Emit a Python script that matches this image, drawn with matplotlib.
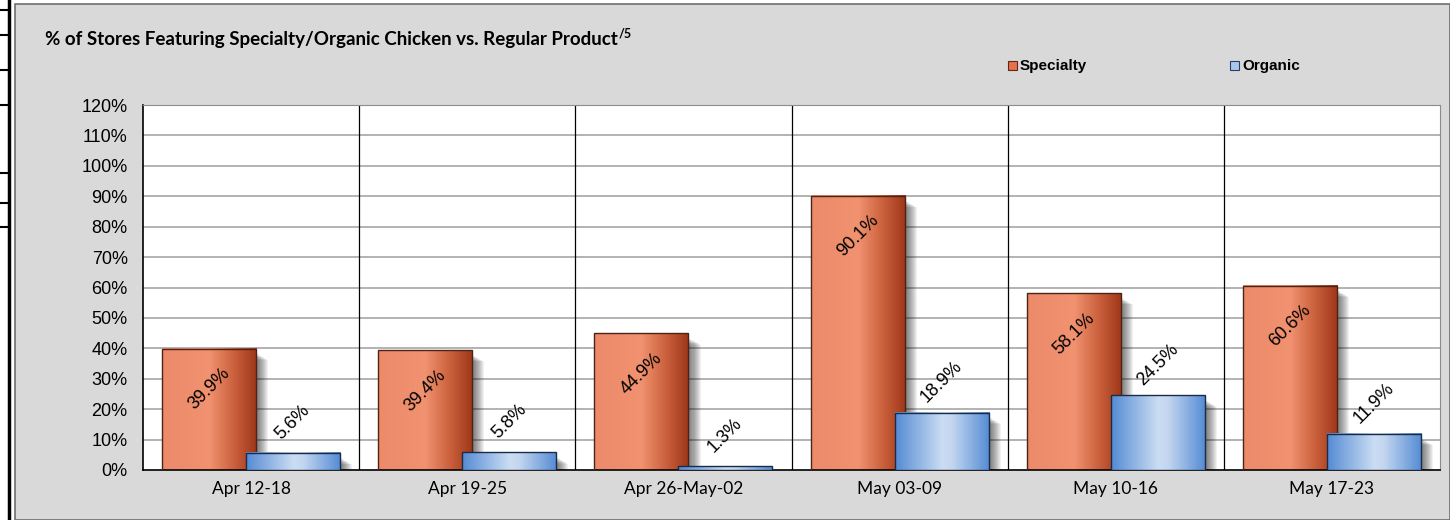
import numpy as np
import matplotlib
matplotlib.use("Agg")
import matplotlib.pyplot as plt
from matplotlib.patches import Rectangle
from matplotlib.lines import Line2D

weeks = ["Apr 12-18", "Apr 19-25", "Apr 26-May-02", "May 03-09", "May 10-16", "May 17-23"]
specialty = [39.9, 39.4, 44.9, 90.1, 58.1, 60.6]
organic = [5.6, 5.8, 1.3, 18.9, 24.5, 11.9]
yticks = list(range(0, 130, 10))

W, H = 1450, 520
fig = plt.figure(figsize=(W / 100, H / 100), dpi=100, facecolor="white")

# outer grey frame + leftover table lines on the left edge
fig.patches.append(Rectangle((15 / W, 0), 1 - 15 / W, 1 - 4 / H, transform=fig.transFigure,
                             facecolor="#d9d9d9", edgecolor="#6e6e6e", lw=1.2, zorder=-5))
fig.add_artist(Line2D([9 / W, 9 / W], [0, 1], transform=fig.transFigure, color="black", lw=2.5))
for yy in [10, 35, 70, 105, 173, 203, 227]:
    fig.add_artist(Line2D([0, 9 / W], [1 - yy / H, 1 - yy / H], transform=fig.transFigure,
                          color="black", lw=1.5))

ax = fig.add_axes([143 / W, 1 - 470 / H, (1440 - 143) / W, (470 - 105) / H], zorder=2)
ax.set_facecolor("white")
ax.set_xlim(-0.5, len(weeks) - 0.5)
ax.set_ylim(0, 120)
px = 1.0 / 216          # one pixel in x data units
py = 120.0 / 365        # one pixel in y data units

ax.set_yticks(yticks)
ax.set_yticklabels([f"{v}%" for v in yticks], fontsize=13, family="Liberation Sans")
ax.set_xticks(range(len(weeks)))
ax.set_xticklabels(weeks, fontsize=12.5, family="Lato")
ax.tick_params(axis="y", length=0, pad=11)
ax.tick_params(axis="x", length=0, pad=8)
for y in yticks[1:]:
    ax.axhline(y, color="#a6a6a6", lw=1.2, zorder=0.5)
for i in range(1, len(weeks)):
    ax.axvline(i - 0.5, color="black", lw=0.9, zorder=0.6)
for s in ["top", "right"]:
    ax.spines[s].set_color("#8c8c8c")
for s in ["left", "bottom"]:
    ax.spines[s].set_color("black")
    ax.spines[s].set_linewidth(1.2)

def ramp(stops, n=256):
    t = np.linspace(0, 1, n)
    pos = [p for p, _ in stops]
    cols = np.array([c for _, c in stops]) / 255.0
    return np.stack([np.interp(t, pos, cols[:, k]) for k in range(3)], axis=1)[None, :, :]

orange = ramp([(0, (236, 138, 106)), (0.5, (241, 146, 112)), (0.75, (204, 98, 62)), (1.0, (158, 54, 24))])
blue = ramp([(0, (84, 139, 212)), (0.5, (203, 221, 243)), (0.6, (196, 215, 240)), (1.0, (84, 139, 212))])

bw = 0.435
off = 0.194
xs = np.arange(len(weeks))
b1 = ax.bar(xs - off, specialty, bw, facecolor="none", edgecolor="#4a2418", lw=1, zorder=3)
b2 = ax.bar(xs + off, organic, bw, facecolor="none", edgecolor="#1b2a45", lw=1, zorder=5)

for bars, grad, z in [(b1, orange, 2), (b2, blue, 4)]:
    for r in bars:
        x0, w, h = r.get_x(), r.get_width(), r.get_height()
        # soft shadow to the right
        for k in range(1, 13):
            ax.add_patch(Rectangle((x0 + k * px, 0), w, max(h - (4 + k * 0.6) * py, 0),
                                   facecolor="black", alpha=0.055, lw=0, zorder=z - 0.5))
        ax.imshow(grad, extent=[x0, x0 + w, 0, h], aspect="auto", zorder=z,
                  interpolation="bilinear")
ax.set_xlim(-0.5, len(weeks) - 0.5)
ax.set_ylim(0, 120)

for r, v in zip(b1, specialty):
    ax.annotate(f"{v}%", (r.get_x() + r.get_width() / 2, v), xytext=(0, -29),
                textcoords="offset points", rotation=45, rotation_mode="anchor",
                ha="center", va="center", fontsize=13, family="Liberation Sans", zorder=6)
for r, v in zip(b2, organic):
    ax.annotate(f"{v}%", (r.get_x() + r.get_width() / 2, v), xytext=(0, 22),
                textcoords="offset points", rotation=45, rotation_mode="anchor",
                ha="center", va="center", fontsize=13, family="Liberation Sans", zorder=6)

title = fig.text(45 / W, 1 - 40 / H,
                 "% of Stores Featuring Specialty/Organic Chicken vs. Regular Product",
                 fontsize=13.5, fontweight="bold", family="Lato", va="center")
fig.canvas.draw()
bb = title.get_window_extent()
fig.text(bb.x1 / W + 1 / W, 1 - 33 / H, "/5", fontsize=9, fontweight="bold", family="Lato",
         va="center")

# legend
for lx, label, fc, ec in [(1008, "Specialty", "#e8704a", "#5a2a1a"),
                          (1230, "Organic", "#a9c8ee", "#2b3f66")]:
    fig.patches.append(Rectangle((lx / W, 1 - 70 / H), 9 / W, 9 / H, transform=fig.transFigure,
                                 facecolor=fc, edgecolor=ec, lw=0.8))
    fig.text((lx + 12) / W, 1 - 66 / H, label, fontsize=11, fontweight="bold",
             family="Liberation Sans", va="center")

fig.savefig("out.png", dpi=100, facecolor="white")
